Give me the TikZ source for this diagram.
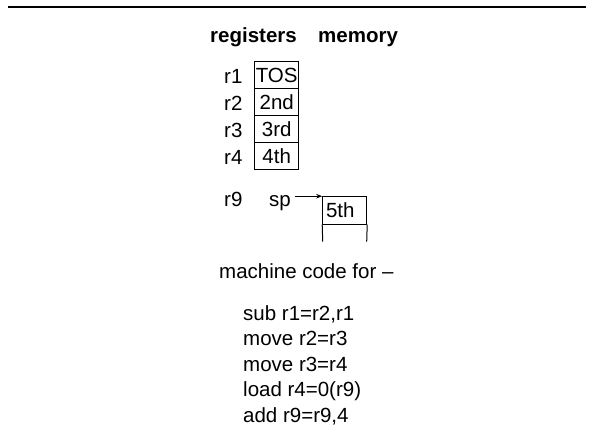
\documentclass[tikz,border=0pt]{standalone}
\usepackage{fontspec}
\setmainfont{Liberation Sans}
\usetikzlibrary{arrows.meta}
\begin{document}
\begin{tikzpicture}[x=1pt,y=-1pt,
  txt/.style={inner sep=0pt,anchor=base west,font=\fontsize{20.5}{24}\selectfont},
  hdr/.style={txt,font=\fontsize{20.5}{24}\selectfont\bfseries},
  regcell/.style={draw,line width=1pt,minimum width=43.5pt,minimum height=26.9pt,
    inner sep=0pt,text height=14.7pt,text depth=0pt,font=\fontsize{20.5}{24}\selectfont},
  memcell/.style={draw,line width=1pt,minimum width=44pt,minimum height=27.3pt,
    inner xsep=3.3pt,inner ysep=0pt,text width=37.4pt,align=left,
    text height=14.7pt,text depth=0pt,font=\fontsize{20.5}{24}\selectfont},
  ptr/.style={line width=0.9pt,-{Stealth[length=6pt,width=4.5pt]}}
]
\useasboundingbox (0,0) rectangle (594,439);

% top rule
\coordinate (ruleL) at (8,7.3);
\coordinate (ruleR) at (586,7.3);
\draw[line width=2pt] (ruleL) -- (ruleR);

% column headings
\node[hdr] (hreg) at (210,42.2) {registers};
\node[hdr] (hmem) at (318,42.2) {memory};

% register file
\node[regcell] (c1) at (276.7,75.1) {TOS};
\node[regcell] (c2) at (276.7,102.0) {2nd};
\node[regcell] (c3) at (276.7,128.9) {3rd};
\node[regcell] (c4) at (276.7,155.8) {4th};
\node[txt] (r1) at (224,83.3) {r1};
\node[txt] (r2) at (224,110.2) {r2};
\node[txt] (r3) at (224,137.1) {r3};
\node[txt] (r4) at (224,164.0) {r4};

% stack pointer into memory
\node[txt] (r9) at (224,206) {r9};
\node[txt] (sp) at (269,206) {sp};
\node[memcell] (m1) at (344.7,210.35) {5th};
\coordinate (m1bl) at (322.7,241.7);
\coordinate (m1br) at (366.7,241.7);
\draw[line width=1pt] (m1.south west) -- (m1bl);
\draw[line width=1pt] (m1.south east) -- (m1br);
\draw[ptr] ([xshift=4.3pt]sp.east |- m1.north west) -- (m1.north west);

% code
\node[txt] (title) at (219,278.5) {machine code for \textendash};
\node[txt] (l1) at (243,320) {sub r1=r2,r1};
\node[txt] (l2) at (243,345.5) {move r2=r3};
\node[txt] (l3) at (243,371) {move r3=r4};
\node[txt] (l4) at (243,396.5) {load r4=0(r9)};
\node[txt] (l5) at (243,422) {add r9=r9,4};
\end{tikzpicture}
\end{document}
